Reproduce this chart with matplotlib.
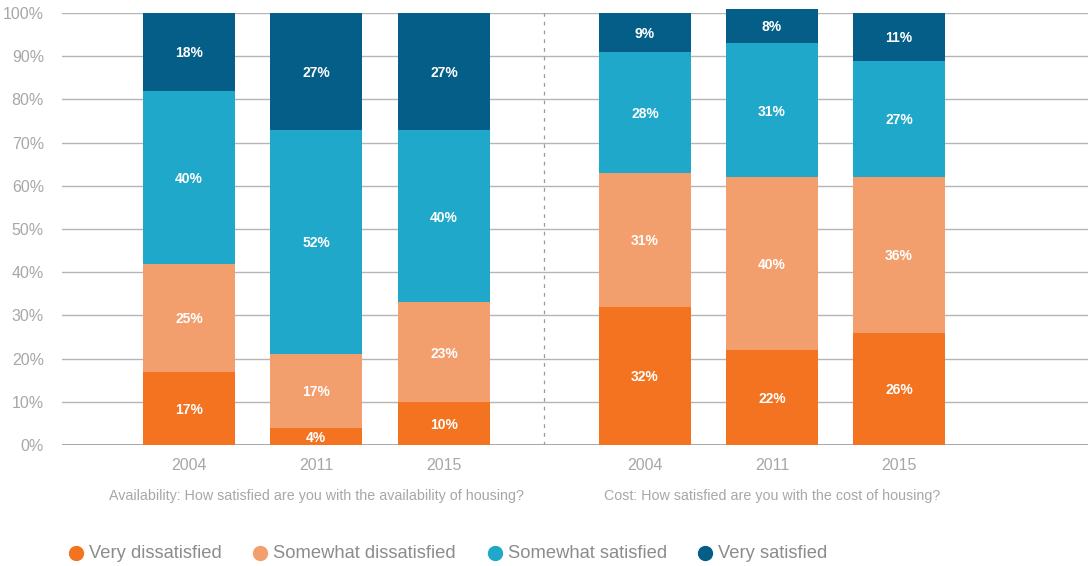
import matplotlib
matplotlib.use("Agg")
import matplotlib.pyplot as plt
from matplotlib.lines import Line2D
import numpy as np

# data
years = ["2004", "2011", "2015"]
groups = ["Availability: How satisfied are you with the availability of housing?",
          "Cost: How satisfied are you with the cost of housing?"]
categories = ["Very dissatisfied", "Somewhat dissatisfied", "Somewhat satisfied", "Very satisfied"]

very_dissatisfied = [17, 4, 10, 32, 22, 26]
somewhat_dissatisfied = [25, 17, 23, 31, 40, 36]
somewhat_satisfied = [40, 52, 40, 28, 31, 27]
very_satisfied = [18, 27, 27, 9, 8, 11]

colors = ["#F37321", "#F29E6D", "#1FA8C9", "#045E88"]
grey = "#a7a7a7"

plt.rcParams["font.family"] = ["Liberation Sans", "DejaVu Sans"]

W, H = 1088, 566
fig = plt.figure(figsize=(W / 100, H / 100), dpi=100)
ax = fig.add_axes([62 / W, (H - 445) / H, 1 - 62 / W, (445 - 13) / H])

step = 127.0
xs = np.array([189, 316, 444, 645, 772, 899], dtype=float)
x = (xs - 189) / step
width = 92 / step

series = [very_dissatisfied, somewhat_dissatisfied, somewhat_satisfied, very_satisfied]
bottom = np.zeros(len(x))
for vals, col in zip(series, colors):
    vals = np.array(vals, dtype=float)
    bars = ax.bar(x, vals, width=width, bottom=bottom, color=col, zorder=3, linewidth=0)
    for b in bars:
        b.set_clip_on(False)  # 2011 cost stack adds up to 101%
    for xi, b, v in zip(x, bottom, vals):
        ax.text(xi, b + v / 2, f"{int(v)}%", ha="center", va="center_baseline", color="white",
                fontsize=10, fontweight="bold", zorder=4)
    bottom += vals

ax.set_xlim((62 - 189) / step, (1088 - 189) / step)
ax.set_ylim(0, 100)
ax.set_yticks(range(0, 101, 10))
ax.set_yticklabels([f"{t}%" for t in range(0, 101, 10)])
ax.yaxis.grid(True, color="#b5b5b5", linewidth=1, zorder=0)
ax.axhline(0, color="#a0a0a0", linewidth=2, zorder=2)
ax.set_axisbelow(True)

sep = (544 - 189) / step
ax.axvline(sep, color="#9a9a9a", linewidth=0.9, linestyle=(0, (3, 4)), zorder=1)

ax.set_xticks(x)
ax.set_xticklabels(years * 2)
ax.tick_params(axis="x", length=0, colors=grey, labelsize=11.5, pad=9)
ax.tick_params(axis="y", length=0, colors=grey, labelsize=11.5, pad=13)
for s in ax.spines.values():
    s.set_visible(False)

# group captions
for gi, g in enumerate(groups):
    ax.text(x[gi * 3 + 1], -11.8, g, ha="center", va="center", color=grey,
            fontsize=10.3, clip_on=False)

# legend, laid out by hand
legend_x = [76, 260, 495, 705]
ly = 1 - 553 / H
for lx, c, name in zip(legend_x, colors, categories):
    fig.add_artist(Line2D([lx / W], [ly], marker="o", markersize=10, color=c,
                          linestyle="", transform=fig.transFigure))
    fig.text((lx + 13) / W, ly, name, ha="left", va="center", color="#8c8c8c", fontsize=13.2)

fig.savefig("out.png", dpi=100)
